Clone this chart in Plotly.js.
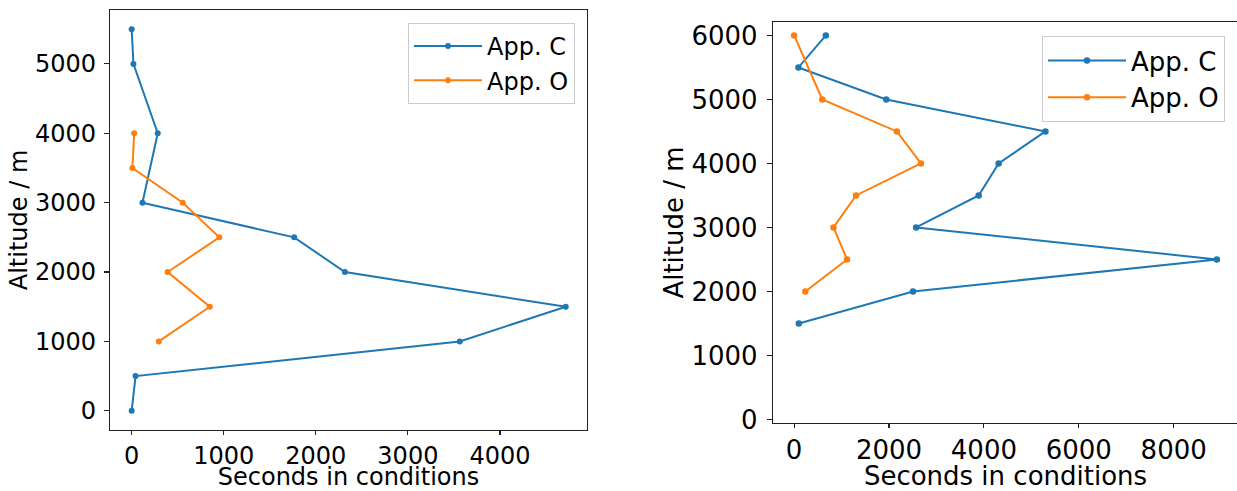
<!DOCTYPE html>
<html>
<head>
<meta charset="utf-8">
<script src="https://cdn.plot.ly/plotly-3.0.1.min.js"></script>
<style>
html, body { margin: 0; padding: 0; overflow: hidden; background: #fff; }
#chart { width: 1240px; height: 491px; }
</style>
</head>
<body>
<div id="chart"></div>
<script>
// ---- Data ----
const seriesNames = ["App. C", "App. O"];

// Left panel
const leftAltC = [0, 500, 1000, 1500, 2000, 2500, 3000, 4000, 5000, 5500];
const leftSecC = [0, 42, 3563, 4715, 2316, 1765, 117, 283, 19, 0];
const leftAltO = [1000, 1500, 2000, 2500, 3000, 3500, 4000];
const leftSecO = [295, 848, 391, 952, 555, 8, 27];

// Right panel
const rightAltC = [1500, 2000, 2500, 3000, 3500, 4000, 4500, 5000, 5500, 6000];
const rightSecC = [98, 2506, 8910, 2571, 3890, 4310, 5297, 1942, 90, 668];
const rightAltO = [2000, 2500, 3000, 3500, 4000, 4500, 5000, 6000];
const rightSecO = [236, 1115, 830, 1305, 2673, 2165, 593, 0];

// Tick labels
const leftXTicks = [0, 1000, 2000, 3000, 4000];
const leftYTicks = [0, 1000, 2000, 3000, 4000, 5000];
const rightXTicks = [0, 2000, 4000, 6000, 8000];
const rightYTicks = [0, 1000, 2000, 3000, 4000, 5000, 6000];

const xTitle = "Seconds in conditions";
const yTitle = "Altitude / m";

// ---- Styling ----
const BLUE = "#1f77b4", ORANGE = "#ff7f0e";
const FONT = "DejaVu Sans, Verdana, sans-serif";
const W = 1240, H = 491;

function trace(x, y, name, color, xa, ya, leg, msize) {
  return {
    type: "scatter", mode: "lines+markers",
    x: x, y: y, name: name, xaxis: xa, yaxis: ya,
    legend: leg, showlegend: true,
    line: { color: color, width: 2 },
    marker: { color: color, size: msize },
    hoverinfo: "x+y+name"
  };
}

const data = [
  trace(leftSecC, leftAltC, seriesNames[0], BLUE, "x", "y", "legend", 6),
  trace(leftSecO, leftAltO, seriesNames[1], ORANGE, "x", "y", "legend", 6),
  trace(rightSecC, rightAltC, seriesNames[0], BLUE, "x2", "y2", "legend2", 6.5),
  trace(rightSecO, rightAltO, seriesNames[1], ORANGE, "x2", "y2", "legend2", 6.5)
];

function axis(extra, fsize) {
  return Object.assign({
    showgrid: false, zeroline: false,
    showline: true, mirror: true, linecolor: "#222", linewidth: 1.2,
    ticks: "outside", ticklen: 5, tickwidth: 1.1, tickcolor: "#222",
    tickfont: { family: FONT, size: fsize, color: "#000" },
    automargin: false, fixedrange: true
  }, extra);
}

const layout = {
  width: W, height: H,
  margin: { l: 0, r: 0, t: 0, b: 0 },
  paper_bgcolor: "#fff", plot_bgcolor: "#fff",
  font: { family: FONT, color: "#000" },
  xaxis: axis({
    domain: [110 / W, 587 / W], anchor: "y",
    range: [-235.5, 4945.5], tickmode: "array", tickvals: leftXTicks,
    ticklen: 4,
    title: { text: xTitle, font: { family: FONT, size: 24, color: "#000" }, standoff: 9 }
  }, 24),
  yaxis: axis({
    domain: [(H - 430) / H, (H - 10) / H], anchor: "x",
    range: [-277, 5777], tickmode: "array", tickvals: leftYTicks,
    ticklabelstandoff: 3,
    title: { text: yTitle, font: { family: FONT, size: 24, color: "#000" }, standoff: 0 }
  }, 24),
  xaxis2: axis({
    domain: [773 / W, 1238 / W], anchor: "y2",
    range: [-445.5, 9355.5], tickmode: "array", tickvals: rightXTicks,
    ticklen: 4,
    title: { text: xTitle, font: { family: FONT, size: 26, color: "#000" }, standoff: 8 }
  }, 26),
  yaxis2: axis({
    domain: [(H - 423) / H, (H - 22) / H], anchor: "x2",
    range: [-55, 6210], tickmode: "array", tickvals: rightYTicks,
    ticklabelstandoff: 4,
    title: { text: yTitle, font: { family: FONT, size: 26, color: "#000" }, standoff: 0 }
  }, 26),
  legend: {
    x: 575 / W, xanchor: "right", y: (H - 23) / H, yanchor: "top",
    bgcolor: "rgba(255,255,255,0.8)", bordercolor: "#cccccc", borderwidth: 1,
    font: { family: FONT, size: 24, color: "#000" }, itemwidth: 68
  },
  legend2: {
    x: 1225 / W, xanchor: "right", y: (H - 36) / H, yanchor: "top",
    bgcolor: "rgba(255,255,255,0.8)", bordercolor: "#cccccc", borderwidth: 1,
    font: { family: FONT, size: 26, color: "#000" }, itemwidth: 78
  }
};

Plotly.newPlot("chart", data, layout, { staticPlot: true, displayModeBar: false });
</script>
</body>
</html>
